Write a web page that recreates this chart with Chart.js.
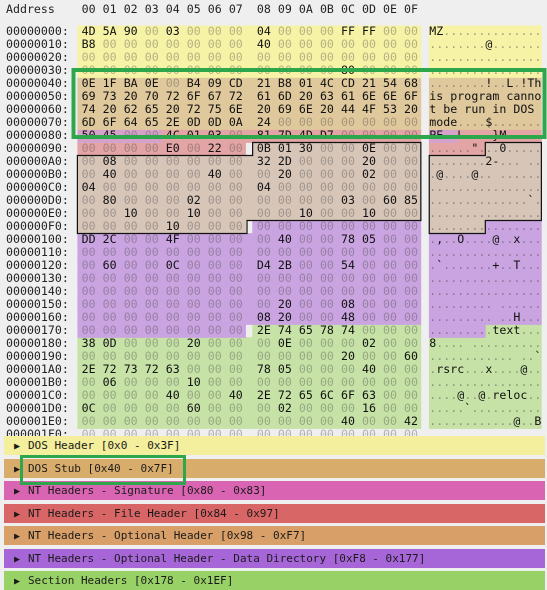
<!DOCTYPE html>
<html><head><meta charset="utf-8">
<script src="https://cdn.jsdelivr.net/npm/chart.js@4/dist/chart.umd.min.js"></script>
<style>
html,body{margin:0;padding:0;background:#efefef;overflow:hidden}
#wrap{position:relative;width:547px;height:590px}
canvas{position:absolute;left:0;top:0}
.panel{position:absolute;left:4px;width:541px;height:19px;font:11px "DejaVu Sans Mono",monospace;color:#1a1a1a;line-height:19px;white-space:pre}
.panel .tri{position:absolute;left:10px;font-size:10px}
.panel .t{position:absolute;left:24px}
#stubbox{position:absolute;left:20px;top:455px;width:160px;height:24px;border:3px solid #2ea64c}
</style></head><body>
<div id="wrap"><canvas id="c" width="547" height="590"></canvas>
<div id="panels"></div><div id="stubbox"></div></div>
<script>
// ---- data ----
const rowAddresses = ["00000000","00000010","00000020","00000030","00000040","00000050","00000060","00000070","00000080","00000090","000000A0","000000B0","000000C0","000000D0","000000E0","000000F0","00000100","00000110","00000120","00000130","00000140","00000150","00000160","00000170","00000180","00000190","000001A0","000001B0","000001C0","000001D0","000001E0","000001F0"];
const columnLabels = ["00","01","02","03","04","05","06","07","08","09","0A","0B","0C","0D","0E","0F"];
const hexRows = [
"4D 5A 90 00 03 00 00 00 04 00 00 00 FF FF 00 00",
"B8 00 00 00 00 00 00 00 40 00 00 00 00 00 00 00",
"00 00 00 00 00 00 00 00 00 00 00 00 00 00 00 00",
"00 00 00 00 00 00 00 00 00 00 00 00 80 00 00 00",
"0E 1F BA 0E 00 B4 09 CD 21 B8 01 4C CD 21 54 68",
"69 73 20 70 72 6F 67 72 61 6D 20 63 61 6E 6E 6F",
"74 20 62 65 20 72 75 6E 20 69 6E 20 44 4F 53 20",
"6D 6F 64 65 2E 0D 0D 0A 24 00 00 00 00 00 00 00",
"50 45 00 00 4C 01 03 00 81 7D 4D D7 00 00 00 00",
"00 00 00 00 E0 00 22 00 0B 01 30 00 00 0E 00 00",
"00 08 00 00 00 00 00 00 32 2D 00 00 00 20 00 00",
"00 40 00 00 00 00 40 00 00 20 00 00 00 02 00 00",
"04 00 00 00 00 00 00 00 04 00 00 00 00 00 00 00",
"00 80 00 00 00 02 00 00 00 00 00 00 03 00 60 85",
"00 00 10 00 00 10 00 00 00 00 10 00 00 10 00 00",
"00 00 00 00 10 00 00 00 00 00 00 00 00 00 00 00",
"DD 2C 00 00 4F 00 00 00 00 40 00 00 78 05 00 00",
"00 00 00 00 00 00 00 00 00 00 00 00 00 00 00 00",
"00 60 00 00 0C 00 00 00 D4 2B 00 00 54 00 00 00",
"00 00 00 00 00 00 00 00 00 00 00 00 00 00 00 00",
"00 00 00 00 00 00 00 00 00 00 00 00 00 00 00 00",
"00 00 00 00 00 00 00 00 00 20 00 00 08 00 00 00",
"00 00 00 00 00 00 00 00 08 20 00 00 48 00 00 00",
"00 00 00 00 00 00 00 00 2E 74 65 78 74 00 00 00",
"38 0D 00 00 00 20 00 00 00 0E 00 00 00 02 00 00",
"00 00 00 00 00 00 00 00 00 00 00 00 20 00 00 60",
"2E 72 73 72 63 00 00 00 78 05 00 00 00 40 00 00",
"00 06 00 00 00 10 00 00 00 00 00 00 00 00 00 00",
"00 00 00 00 40 00 00 40 2E 72 65 6C 6F 63 00 00",
"0C 00 00 00 00 60 00 00 00 02 00 00 00 16 00 00",
"00 00 00 00 00 00 00 00 00 00 00 00 40 00 00 42",
"00 00 00 00 00 00 00 00 00 00 00 00 00 00 00 00"];
const regionNames = ["DOS Header [0x0 - 0x3F]","DOS Stub [0x40 - 0x7F]","NT Headers - Signature [0x80 - 0x83]","NT Headers - File Header [0x84 - 0x97]","NT Headers - Optional Header [0x98 - 0xF7]","NT Headers - Optional Header - Data Directory [0xF8 - 0x177]","Section Headers [0x178 - 0x1EF]"];
const regionStart = [0x0,0x40,0x80,0x84,0x98,0xF8,0x178];
const regionEnd   = [0x3F,0x7F,0x83,0x97,0xF7,0x177,0x1EF];
const regionCellColors  = ["#f6f2a6","#dfc89c","#d6a2cc","#e2a4a4","#d7c5b8","#caa4e0","#c6e2a6"];
const regionPanelColors = ["#f3ef9c","#d8ad6c","#d964b2","#d86666","#d89f68","#a766d8","#98d266"];

// ---- layout helpers (character units) ----
const ASCII0 = 50.2;
const HALF = 6.5;
const cellL = i => 3*i + (i>=8?1:0);
const cellR = i => 3*i + 3 + (i>=8?1:0);

const datasets = [];
regionNames.forEach((name,k)=>{
  const hex=[], asc=[];
  rowAddresses.forEach((a,r)=>{
    const rs=r*16, re=rs+15;
    const s=Math.max(rs,regionStart[k]), e=Math.min(re,regionEnd[k]);
    if (s<=e){ hex.push([cellL(s-rs),cellR(e-rs)]); asc.push([ASCII0+(s-rs),ASCII0+(e-rs)+1]); }
    else { hex.push(null); asc.push(null); }
  });
  [hex,asc].forEach(d=>datasets.push({label:name,data:d,backgroundColor:regionCellColors[k],borderWidth:0,grouped:false,barPercentage:1,categoryPercentage:1}));
});

const MONO='"DejaVu Sans Mono", monospace';
const textPlugin = {
  id:'hexText',
  afterDatasetsDraw(chart){
    const ctx=chart.ctx, xs=chart.scales.x, ys=chart.scales.y;
    const X=v=>xs.getPixelForValue(v);
    const rowTop=r=>ys.getPixelForValue(r)-HALF, rowBot=r=>ys.getPixelForValue(r)+HALF;
    ctx.save();
    ctx.font='11.6px '+MONO; ctx.textBaseline='middle';
    ctx.fillStyle='#222'; ctx.textAlign='left';
    ctx.fillText('Address',6,10);
    ctx.textAlign='center';
    columnLabels.forEach((c,i)=>ctx.fillText(c,X(cellL(i)+1.6),10));
    rowAddresses.forEach((a,r)=>{
      const y=ys.getPixelForValue(r);
      ctx.textAlign='left'; ctx.fillStyle='#222';
      ctx.fillText(a+':',6,y);
      const bytes=hexRows[r].split(' ');
      bytes.forEach((b,i)=>{
        const v=parseInt(b,16);
        ctx.textAlign='center';
        ctx.fillStyle= v===0 ? 'rgba(60,60,60,0.35)' : '#111';
        ctx.fillText(b,X(cellL(i)+1.6),y);
        let ch = (v>=0x20 && v<0x7f) ? String.fromCharCode(v) : '.';
        ctx.fillStyle= ch==='.' ? 'rgba(60,60,60,0.45)' : '#111';
        ctx.fillText(ch,X(ASCII0+i+0.5),y);
      });
    });
    ctx.strokeStyle='#111'; ctx.lineWidth=1.2;
    const r90=9, rE0=14, rF0=15;
    const poly=(pts)=>{ctx.beginPath();pts.forEach((p,i)=>i?ctx.lineTo(X(p[0]),p[1]):ctx.moveTo(X(p[0]),p[1]));ctx.closePath();ctx.stroke();};
    poly([[25,rowTop(r90)],[49,rowTop(r90)],[49,rowBot(rE0)],[24.2,rowBot(rE0)],[24.2,rowBot(rF0)],[0,rowBot(rF0)],[0,rowTop(r90+1)],[25,rowTop(r90+1)]]);
    poly([[ASCII0+8,rowTop(r90)],[ASCII0+16,rowTop(r90)],[ASCII0+16,rowBot(rE0)],[ASCII0+8,rowBot(rE0)],[ASCII0+8,rowBot(rF0)],[ASCII0,rowBot(rF0)],[ASCII0,rowTop(r90+1)],[ASCII0+8,rowTop(r90+1)]]);
    ctx.strokeStyle='#2ea64c'; ctx.lineWidth=4;
    const t=rowTop(3)+5.5, b=rowBot(8)-5.5;
    ctx.strokeRect(73.5, t, 471, b-t);
    ctx.restore();
  }
};

new Chart(document.getElementById('c'),{
  type:'bar',
  data:{labels:rowAddresses,datasets},
  options:{
    indexAxis:'y',responsive:false,animation:false,devicePixelRatio:2,
    layout:{padding:{left:77.4,right:0,top:25.5,bottom:148.5}},
    plugins:{legend:{display:false},tooltip:{enabled:false}},
    scales:{
      x:{type:'linear',min:0,max:67,display:false},
      y:{type:'category',display:false,offset:true}
    }
  },
  plugins:[textPlugin]
});

const pc=document.getElementById('panels');
regionNames.forEach((n,k)=>{
  const d=document.createElement('div'); d.className='panel';
  d.style.top=(436+k*22.5)+'px'; d.style.background=regionPanelColors[k];
  d.innerHTML='<span class="tri">&#9654;</span><span class="t"></span>';
  d.querySelector('.t').textContent=n; pc.appendChild(d);
});
</script></body></html>
